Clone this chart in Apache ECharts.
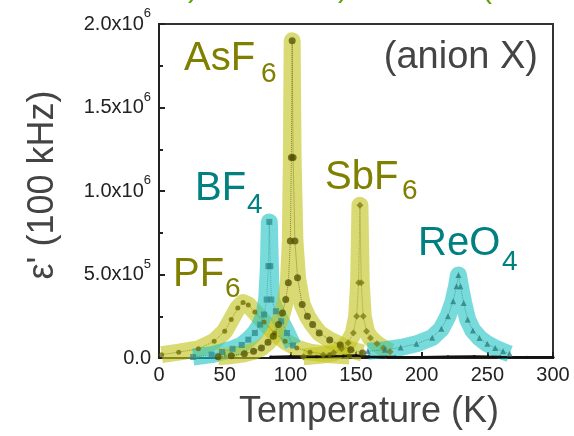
<!DOCTYPE html>
<html><head><meta charset="utf-8">
<script src="https://cdn.jsdelivr.net/npm/echarts@6/dist/echarts.min.js"></script>
<style>html,body{margin:0;padding:0;background:#fff}#c{width:574px;height:436px}</style>
</head><body><div id="c"></div>
<script>
// Temperature (K), epsilon' (100 kHz)
const pf6 = [[2,20000],[15,35000],[30,55000],[42,100000],[50,160000],[55,230000],[60,300000],[64,332000],[68,318000],[73,275000],[80,215000],[88,150000],[96,100000],[105,60000],[115,35000],[130,20000],[145,12000]];
const bf4 = [[26,6000],[40,20000],[48,36000],[56,55000],[63,78000],[68,110000],[73,150000],[77,200000],[80,260000],[82,350000],[83.3,550000],[84,815000],[84.8,550000],[85.5,350000],[89,280000],[93,220000],[97.5,150000],[102,75000]];
const asf6 = [[45,8000],[55,14000],[65,25000],[72,40000],[78,60000],[83,95000],[87,130000],[91,200000],[94,270000],[96.5,350000],[98.5,450000],[100,700000],[100.8,1200000],[101.4,1900000],[102.1,1200000],[103.5,700000],[105.5,480000],[109,320000],[113,250000],[117,200000],[122,150000],[130,108000],[138,78000],[146,50000],[155,30000]];
const sbf6 = [[110,8000],[125,18000],[133,32000],[139,55000],[144,90000],[148,150000],[150.5,250000],[152,450000],[153,915000],[154,450000],[155.5,250000],[158,160000],[161,120000],[166,85000],[171,60000],[176,38000]];
const reo4 = [[159,40000],[172,50000],[184,63000],[196,85000],[208,122000],[215,175000],[220,250000],[224,340000],[226.5,430000],[228,497000],[229.5,430000],[232,330000],[235,230000],[239,165000],[244,120000],[250,85000],[256,60000],[262,40000],[267,25000]];
const baseline = [[85,6000],[100,9000],[120,7000],[140,12000],[150,15000],[160,8000],[180,6000],[200,5000],[220,7000],[240,9000],[260,6000],[280,5000],[300,5000]];
const xTicks = [0,50,100,150,200,250,300];
const yTickLabels = {0:'0.0', 500000:'5.0x10|5', 1000000:'1.0x10|6', 1500000:'1.5x10|6', 2000000:'2.0x10|6'};

const YEL = 'rgba(195,195,30,0.62)';
const CYA = 'rgba(30,195,195,0.6)';
function band(name, data, color){
  return {name:name, type:'line', data:data, showSymbol:false, symbol:'none', silent:true,
    lineStyle:{width:17, color:color, cap:'butt', join:'round'}};
}
function marks(name, data, sym, size, color){
  return {name:name+' pts', type:'line', data:data, symbol:sym, symbolSize:size, showSymbol:true,
    itemStyle:{color:color, opacity:0.75},
    lineStyle:{width:1, type:'dotted', color:color, opacity:0.6}};
}
const chart = echarts.init(document.getElementById('c'), null, {renderer:'canvas'});
const FONT = 'Liberation Sans, Arial, sans-serif';
function txt(x,y,t,size,color,align){
  return {type:'text', x:x, y:y, style:{text:t, font:size+'px '+FONT, fill:color, textAlign:align||'left', textVerticalAlign:'middle'}, z:100};
}
chart.setOption({
  animation:false,
  grid:{left:159, right:21, top:24, bottom:78, show:true, borderColor:'#333', borderWidth:2, outerBoundsMode:'none'},
  xAxis:{type:'value', min:0, max:300, interval:50,
    name:'Temperature (K)', nameLocation:'middle', nameGap:36,
    nameTextStyle:{fontSize:36, color:'#444', fontFamily:FONT, padding:[0,0,0,26]},
    axisLine:{show:true, onZero:false, lineStyle:{color:'#222', width:2}},
    axisTick:{show:true, inside:true, length:6, lineStyle:{color:'#222', width:2}},
    axisLabel:{fontSize:20, color:'#222', fontFamily:FONT, margin:7},
    splitLine:{show:false}},
  yAxis:{type:'value', min:0, max:2000000, interval:500000,
    name:"ε' (100 kHz)", nameLocation:'middle', nameGap:98,
    nameTextStyle:{fontSize:36, color:'#444', fontFamily:FONT, padding:[0,0,0,12]},
    axisLine:{show:true, onZero:false, lineStyle:{color:'#222', width:2}},
    axisTick:{show:true, inside:true, length:6, lineStyle:{color:'#222', width:2}},
    minorTick:{show:true, splitNumber:2, length:4, lineStyle:{color:'#222', width:2}},
    axisLabel:{margin:8, fontFamily:FONT, color:'#222',
      formatter:function(v){const s=yTickLabels[v]; if(!s) return ''; const p=s.split('|'); return p.length>1?('{m|'+p[0]+'}{s|'+p[1]+'}'):('{m|'+p[0]+'}');},
      rich:{m:{fontSize:20, color:'#222', fontFamily:FONT, lineHeight:34}, s:{fontSize:13, color:'#222', fontFamily:FONT, verticalAlign:'top', lineHeight:34}}},
    splitLine:{show:false}},
  series:[
    band('PF6', pf6, YEL), band('BF4', bf4, CYA), band('AsF6', asf6, YEL), band('SbF6', sbf6, YEL), band('ReO4', reo4, CYA),
    {name:'base', type:'line', data:baseline, symbol:'circle', symbolSize:3, itemStyle:{color:'#111'}, lineStyle:{width:2.5, color:'#111'}},
    marks('PF6', pf6, 'circle', 5, '#6b6b00'),
    marks('BF4', bf4, 'rect', 6, '#2f8a8a'),
    marks('AsF6', asf6, 'circle', 7, '#4f4f00'),
    marks('SbF6', sbf6, 'diamond', 7, '#7a7a10'),
    marks('ReO4', reo4, 'triangle', 6, '#2a7a7a')
  ],
  graphic:[
    txt(184,59,'AsF',40,'#808000'), txt(261,74,'6',28,'#808000'),
    txt(195,189,'BF',40,'#008080'), txt(247,205,'4',28,'#008080'),
    txt(173,275,'PF',40,'#808000'), txt(225,289,'6',28,'#808000'),
    txt(325,178,'SbF',40,'#808000'), txt(402,191,'6',28,'#808000'),
    txt(418,244,'ReO',40,'#008080'), txt(502,262,'4',28,'#008080'),
    txt(538,58,'(anion X)',38,'#444','right'),
    txt(188,-11,')',30,'#5fa300'), txt(338,-11,')',30,'#5fa300'), txt(482,-10,'(',30,'#5fa300')
  ]
});
</script></body></html>
